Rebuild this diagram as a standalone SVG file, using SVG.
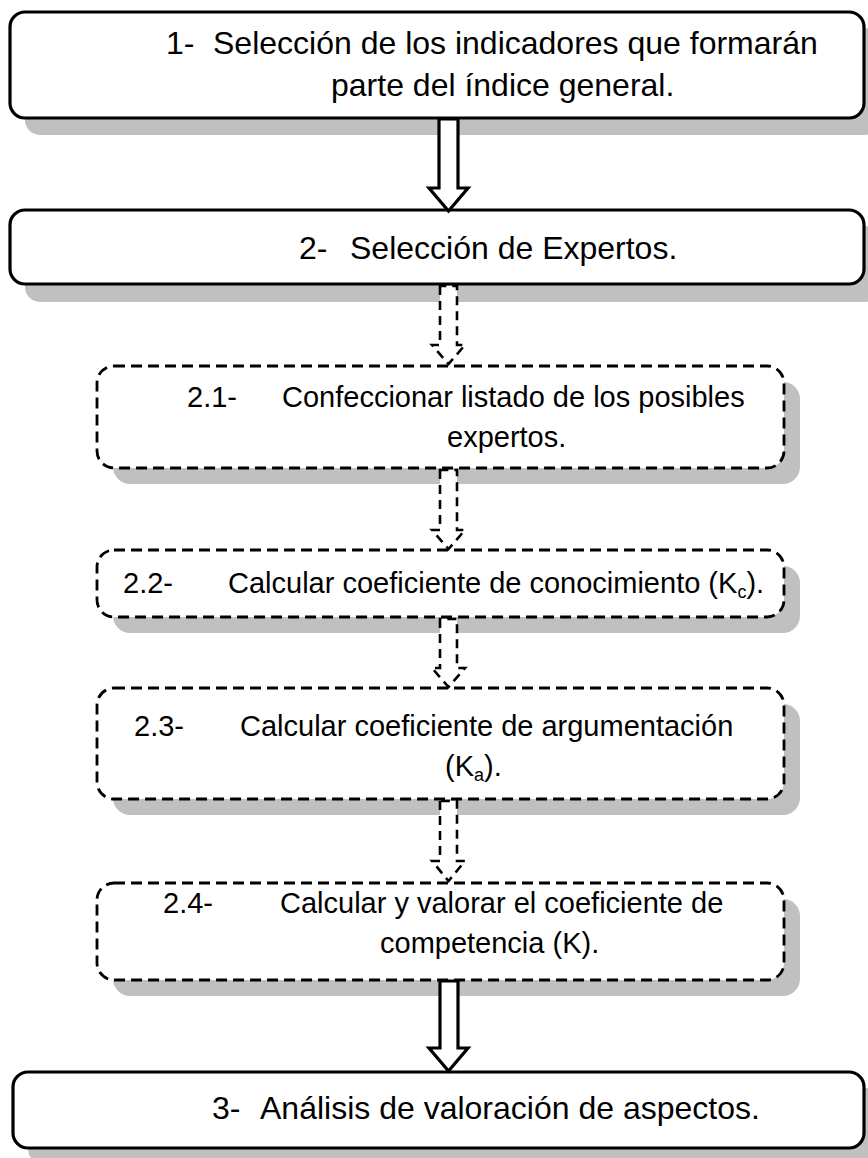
<svg xmlns="http://www.w3.org/2000/svg" width="868" height="1158" viewBox="0 0 868 1158">
<style>
.shadow{fill:#c0c0c0;stroke:none}
.solid{fill:#fff;stroke:#000;stroke-width:3.2}
.dash{fill:#fff;stroke:#000;stroke-width:2.8;stroke-dasharray:11 6}
.arrow{fill:#fff;stroke:#000;stroke-width:3.2;stroke-linejoin:miter}
.darrow{fill:#fff;stroke:#000;stroke-width:2.6;stroke-dasharray:9 6;stroke-linejoin:miter}
.t32{font-family:"Liberation Sans",Arial,sans-serif;font-size:32px;fill:#000}
.t29{font-family:"Liberation Sans",Arial,sans-serif;font-size:29px;fill:#000}
.sub{font-size:18px}
</style>
<rect width="868" height="1158" fill="#fff"/>
<g id="node1">
<rect class="shadow" x="25" y="28" width="854" height="107" rx="15"/>
<rect class="solid" x="10" y="12" width="854" height="106" rx="15"/>
<text class="t32" x="166" y="54">1-</text>
<text class="t32" x="213" y="54">Selección de los indicadores que formarán</text>
<text class="t32" x="331" y="96">parte del índice general.</text>
</g>
<g id="node2">
<rect class="shadow" x="25" y="226" width="854" height="76" rx="15"/>
<rect class="solid" x="10" y="210" width="854" height="74" rx="15"/>
<text class="t32" x="299" y="259">2-</text>
<text class="t32" x="350" y="259">Selección de Expertos.</text>
</g>
<g id="node2_1">
<rect class="shadow" x="113" y="382" width="687" height="102" rx="17"/>
<rect class="dash" x="97" y="366" width="687" height="102" rx="17"/>
<text class="t29" x="187" y="407">2.1-</text>
<text class="t29" x="282" y="407">Confeccionar listado de los posibles</text>
<text class="t29" x="447" y="447">expertos.</text>
</g>
<g id="node2_2">
<rect class="shadow" x="113" y="566" width="687" height="67" rx="17"/>
<rect class="dash" x="97" y="550" width="687" height="67" rx="17"/>
<text class="t29" x="123" y="593">2.2-</text>
<text class="t29" x="228" y="593">Calcular coeficiente de conocimiento (K<tspan class="sub" dy="5">c</tspan><tspan dy="-5">).</tspan></text>
</g>
<g id="node2_3">
<rect class="shadow" x="113" y="704" width="687" height="111" rx="17"/>
<rect class="dash" x="97" y="688" width="687" height="111" rx="17"/>
<text class="t29" x="134" y="736">2.3-</text>
<text class="t29" x="240" y="736">Calcular coeficiente de argumentación</text>
<text class="t29" x="445" y="776">(K<tspan class="sub" dy="5">a</tspan><tspan dy="-5">).</tspan></text>
</g>
<g id="node2_4">
<rect class="shadow" x="113" y="899" width="687" height="97" rx="17"/>
<rect class="dash" x="97" y="883" width="687" height="97" rx="17"/>
<text class="t29" x="163" y="913">2.4-</text>
<text class="t29" x="280" y="913">Calcular y valorar el coeficiente de</text>
<text class="t29" x="380" y="953">competencia (K).</text>
</g>
<g id="node3">
<rect class="shadow" x="28" y="1088" width="852" height="76" rx="15"/>
<rect class="solid" x="13" y="1072" width="851" height="76" rx="15"/>
<text class="t32" x="212" y="1119">3-</text>
<text class="t32" x="260" y="1119">Análisis de valoración de aspectos.</text>
</g>
<g id="connectors">
<polygon class="arrow" points="439,119 439,188 429,188 448.5,211 468,188 458,188 458,119"/>
<polygon class="darrow" points="440,286 440,345 432,345 448.5,364 465,345 457,345 457,286"/>
<polygon class="darrow" points="440,470 440,530 432,530 448.5,549 465,530 457,530 457,470"/>
<polygon class="darrow" points="440,619 440,668 432,668 448.5,687 465,668 457,668 457,619"/>
<polygon class="darrow" points="440,801 440,861 432,861 448.5,881 465,861 457,861 457,801"/>
<polygon class="arrow" points="440,981 440,1048 429,1048 448.5,1071 468,1048 458,1048 458,981"/>
</g>
</svg>
